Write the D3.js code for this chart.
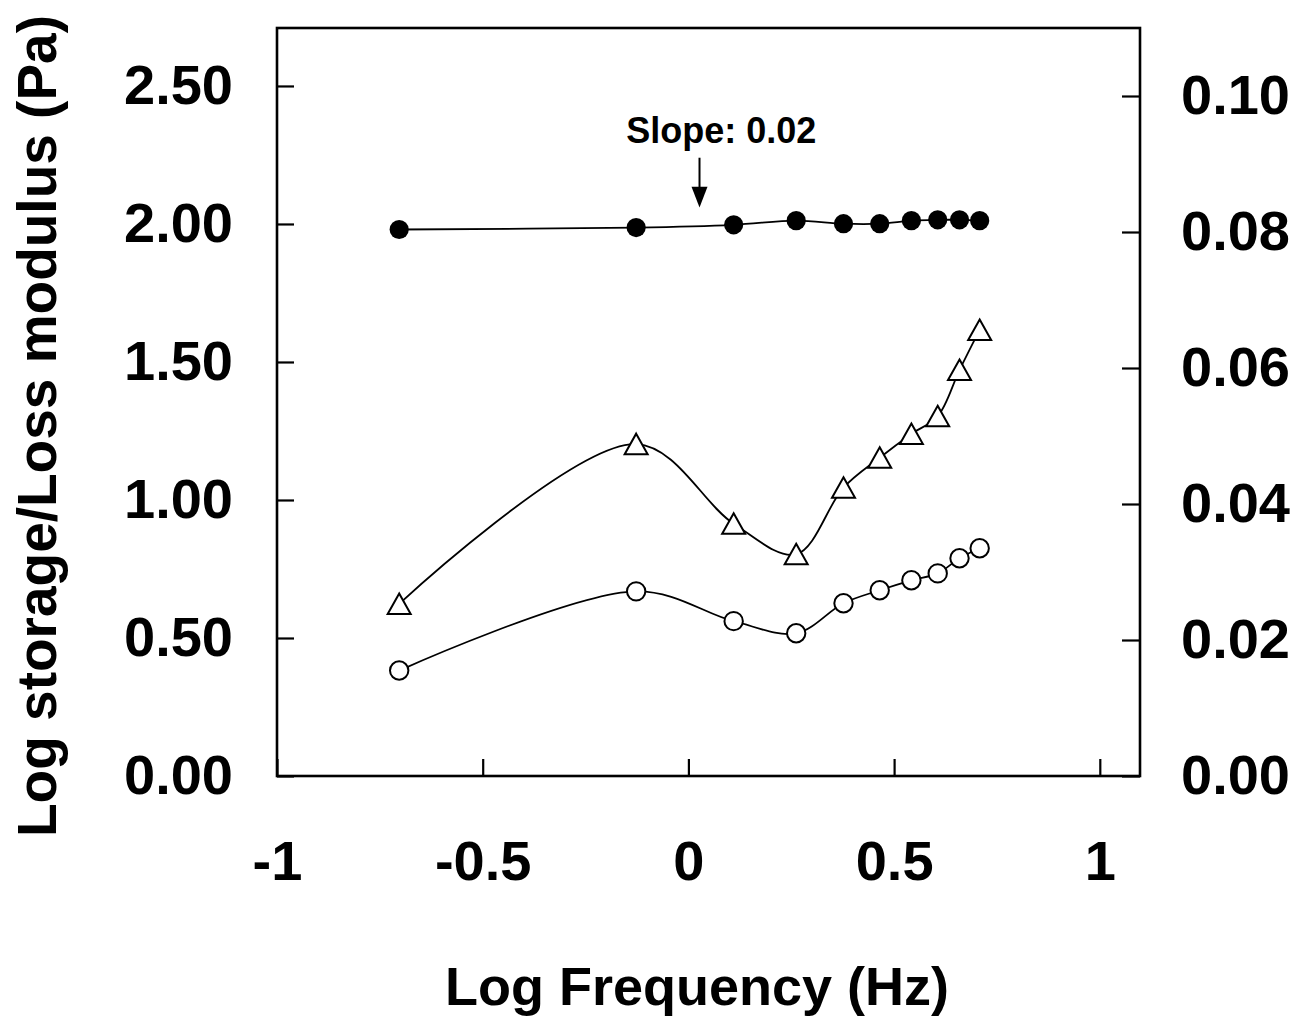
<!DOCTYPE html>
<html>
<head>
<meta charset="utf-8">
<script src="https://cdn.jsdelivr.net/npm/d3@7"></script>
<style>
  body { margin: 0; background: #fff; }
  text { font-family: "Liberation Sans", Arial, sans-serif; font-weight: bold; fill: #000; }
</style>
</head>
<body>
<script>
// Values
var logFreq  = [-0.703, -0.127, 0.110, 0.262, 0.377, 0.465, 0.542, 0.606, 0.659, 0.708];
var storage  = [1.980, 1.987, 1.997, 2.012, 2.001, 2.001, 2.012, 2.015, 2.015, 2.012];   // filled circles, left axis
var loss     = [0.382, 0.669, 0.561, 0.517, 0.626, 0.673, 0.709, 0.734, 0.789, 0.825];   // open circles, left axis
var tanDelta = [0.0253, 0.0488, 0.0371, 0.0326, 0.0424, 0.0468, 0.0503, 0.0529, 0.0597, 0.0656]; // triangles, right axis

var xTicks = [-1, -0.5, 0, 0.5, 1];
var leftTicks = [0, 0.5, 1, 1.5, 2, 2.5];
var rightTicks = [0, 0.02, 0.04, 0.06, 0.08, 0.10];

// Set up size
var width = 1313, height = 1023;
var plotLeft = 277, plotRight = 1140, plotTop = 28, plotBottom = 776;

var x = d3.scaleLinear().domain([-1, 1.0977]).range([plotLeft, plotRight]);
var yLeft = d3.scaleLinear().domain([0, 2.71]).range([plotBottom, plotTop]);
var yRight = d3.scaleLinear().domain([0, 0.11]).range([plotBottom, plotTop]);

var svg = d3.select('body').append('svg')
  .attr('width', width)
  .attr('height', height);

// axes, ticks pointing inward
var xAxis = svg.append('g')
  .attr('transform', 'translate(0,' + plotBottom + ')')
  .call(d3.axisBottom(x).tickValues(xTicks).tickFormat(d => String(d))
    .tickSizeInner(-17).tickSizeOuter(0).tickPadding(64));

var leftAxis = svg.append('g')
  .attr('transform', 'translate(' + plotLeft + ',0)')
  .call(d3.axisLeft(yLeft).tickValues(leftTicks).tickFormat(d3.format('.2f'))
    .tickSizeInner(-17).tickSizeOuter(0).tickPadding(44));

var rightAxis = svg.append('g')
  .attr('transform', 'translate(' + plotRight + ',0)')
  .call(d3.axisRight(yRight).tickValues(rightTicks).tickFormat(d3.format('.2f'))
    .tickSizeInner(-18).tickSizeOuter(0).tickPadding(41));

svg.selectAll('.domain').remove();
svg.selectAll('.tick line').attr('stroke', '#000').attr('stroke-width', 2.2);
svg.selectAll('.tick text')
  .attr('font-size', 56)
  .attr('font-family', '"Liberation Sans", Arial, sans-serif')
  .attr('font-weight', 'bold')
  .attr('fill', '#000');

// frame
svg.append('rect')
  .attr('x', plotLeft).attr('y', plotTop)
  .attr('width', plotRight - plotLeft).attr('height', plotBottom - plotTop)
  .attr('fill', 'none').attr('stroke', '#000').attr('stroke-width', 2.6);

var curve = d3.curveCatmullRom.alpha(0.5);

function drawLine(values, yScale) {
  var pts = logFreq.map((f, i) => [f, values[i]]);
  svg.append('path')
    .attr('d', d3.line().curve(curve).x(d => x(d[0])).y(d => yScale(d[1]))(pts))
    .attr('fill', 'none')
    .attr('stroke', '#000')
    .attr('stroke-width', 1.8);
  return pts;
}

var storagePts = drawLine(storage, yLeft);
var lossPts = drawLine(loss, yLeft);
var tanPts = drawLine(tanDelta, yRight);

svg.selectAll('circle.storage').data(storagePts).enter().append('circle')
  .attr('class', 'storage')
  .attr('cx', d => x(d[0])).attr('cy', d => yLeft(d[1]))
  .attr('r', 9.6).attr('fill', '#000');

svg.selectAll('circle.loss').data(lossPts).enter().append('circle')
  .attr('class', 'loss')
  .attr('cx', d => x(d[0])).attr('cy', d => yLeft(d[1]))
  .attr('r', 9.2).attr('fill', '#fff').attr('stroke', '#000').attr('stroke-width', 2);

svg.selectAll('path.tri').data(tanPts).enter().append('path')
  .attr('class', 'tri')
  .attr('transform', d => 'translate(' + x(d[0]) + ',' + yRight(d[1]) + ')')
  .attr('d', 'M0,-10.5L11.5,10L-11.5,10Z')
  .attr('fill', '#fff').attr('stroke', '#000').attr('stroke-width', 2);

// annotation
var arrowX = x(0.027);
svg.append('text')
  .attr('x', x(0.08)).attr('y', 143)
  .attr('text-anchor', 'middle')
  .attr('font-size', 36)
  .text('Slope: 0.02');
svg.append('line')
  .attr('x1', arrowX).attr('x2', arrowX)
  .attr('y1', yLeft(2.24)).attr('y2', yLeft(2.13))
  .attr('stroke', '#000').attr('stroke-width', 2);
svg.append('path')
  .attr('d', 'M' + (arrowX - 8) + ',' + yLeft(2.135) + 'L' + (arrowX + 8) + ',' + yLeft(2.135) +
    'L' + arrowX + ',' + yLeft(2.06) + 'Z')
  .attr('fill', '#000');

// axis titles
svg.append('text')
  .attr('x', 697).attr('y', 1005)
  .attr('text-anchor', 'middle')
  .attr('font-size', 54)
  .text('Log Frequency (Hz)');

svg.append('text')
  .attr('transform', 'translate(56,426) rotate(-90)')
  .attr('text-anchor', 'middle')
  .attr('font-size', 55)
  .text('Log storage/Loss modulus (Pa)');
</script>
</body>
</html>
